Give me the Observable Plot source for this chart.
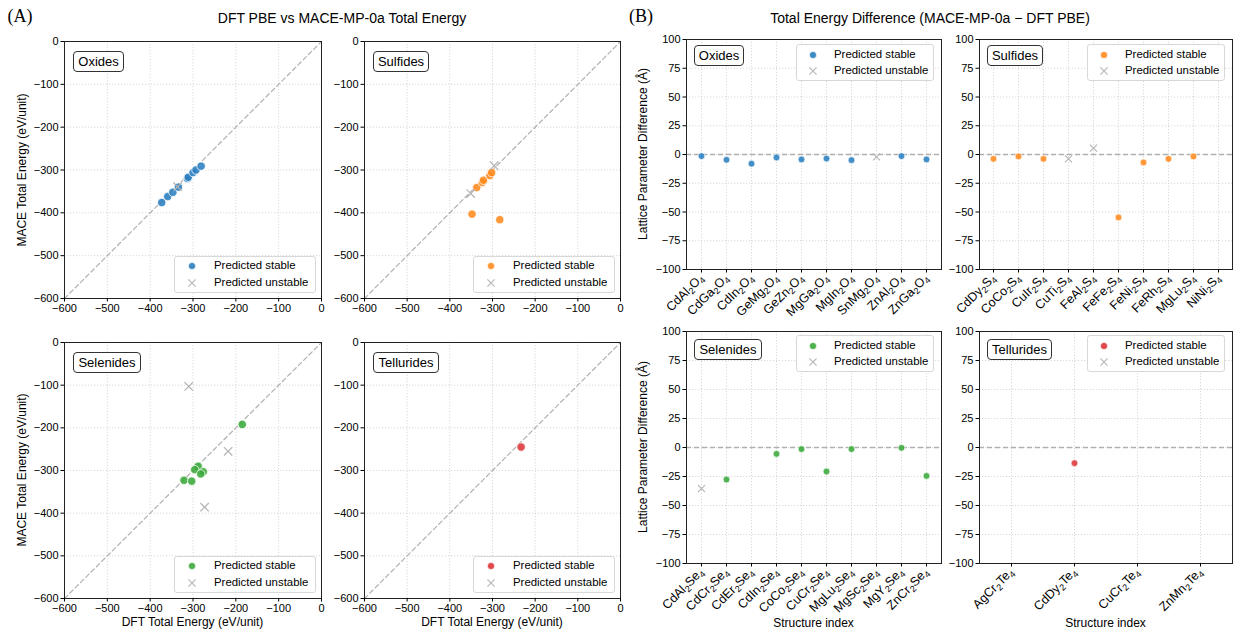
<!DOCTYPE html>
<html>
<head>
<meta charset="utf-8">
<script src="https://cdn.jsdelivr.net/npm/d3@7"></script>
<script src="https://cdn.jsdelivr.net/npm/@observablehq/plot@0.6"></script>
<style>
  html, body { margin: 0; padding: 0; background: #fff; }
  #fig { position: relative; width: 1233px; height: 634px; overflow: hidden; background: #fff;
         font-family: "Liberation Sans", Arial, Helvetica, sans-serif; color: #000; }
  .txt { position: absolute; white-space: nowrap; transform-origin: center center; line-height: 1; }
  .tag { position: absolute; box-sizing: border-box; border: 1px solid #333; border-radius: 4px;
         background: #fff; display: flex; align-items: center; justify-content: center;
         font-size: 13px; line-height: 1; }
  .leg { position: absolute; box-sizing: border-box; border: 1px solid #d8d8d8; border-radius: 3px;
         background: rgba(255,255,255,0.85); font-size: 11.4px; }
  .leg .lab { position: absolute; white-space: nowrap; line-height: 1; }
  .leg svg { position: absolute; overflow: visible; }
</style>
</head>
<body>
<div id="fig"></div>
<script>
// ---------------- DATA ----------------
const groups = ["Oxides", "Sulfides", "Selenides", "Tellurides"];
const groupColors = ["#2a7fbf", "#ff8a1e", "#3aa83a", "#dc3537"];
const legendLabels = ["Predicted stable", "Predicted unstable"];

// Panel A: DFT vs MACE total energy (eV/unit)
const energyTicks = [-600, -500, -400, -300, -200, -100, 0];
const oxidesStableDFT    = [-373, -359, -347, -334, -313, -311, -300, -293, -281];
const oxidesStableMACE   = [-376, -362, -352, -340, -320, -317, -306, -300, -291];
const oxidesUnstableDFT  = [-336];
const oxidesUnstableMACE = [-339];

const sulfidesStableDFT    = [-348, -283, -337, -324, -321, -306, -302];
const sulfidesStableMACE   = [-403, -416, -341, -329, -324, -313, -306];
const sulfidesUnstableDFT  = [-351, -296];
const sulfidesUnstableMACE = [-355, -290];

const selenidesStableDFT    = [-185, -288, -296, -276, -282, -321, -303];
const selenidesStableMACE   = [-192, -290, -298, -303, -308, -323, -325];
const selenidesUnstableDFT  = [-310, -218, -273];
const selenidesUnstableMACE = [-103, -255, -386];

const telluridesStableDFT    = [-233];
const telluridesStableMACE   = [-245];
const telluridesUnstableDFT  = [];
const telluridesUnstableMACE = [];

// Panel B: lattice parameter difference (Å); null = no value, stable 1/0
const latticeTicks = [-100, -75, -50, -25, 0, 25, 50, 75, 100];
const oxideNames  = ["CdAl₂O₄", "CdGa₂O₄", "CdIn₂O₄", "GeMg₂O₄", "GeZn₂O₄", "MgGa₂O₄", "MgIn₂O₄", "SnMg₂O₄", "ZnAl₂O₄", "ZnGa₂O₄"];
const oxideDiff   = [-1.4, -4.6, -8.0, -2.6, -4.3, -3.5, -4.9, -2.0, -1.4, -4.3];
const oxideStable = [1, 1, 1, 1, 1, 1, 1, 0, 1, 1];

const sulfideNames  = ["CdDy₂S₄", "CoCo₂S₄", "CuIr₂S₄", "CuTi₂S₄", "FeAl₂S₄", "FeFe₂S₄", "FeNi₂S₄", "FeRh₂S₄", "MgLu₂S₄", "NiNi₂S₄"];
const sulfideDiff   = [-3.8, -1.7, -3.8, -3.8, 5.5, -54.7, -6.9, -3.8, -1.7, null];
const sulfideStable = [1, 1, 1, 0, 0, 1, 1, 1, 1, null];

const selenideNames  = ["CdAl₂Se₄", "CdCr₂Se₄", "CdEr₂Se₄", "CdIn₂Se₄", "CoCo₂Se₄", "CuCr₂Se₄", "MgLu₂Se₄", "MgSc₂Se₄", "MgY₂Se₄", "ZnCr₂Se₄"];
const selenideDiff   = [-35.4, -27.6, null, -5.5, -1.4, -20.7, -1.4, null, -0.3, -24.5];
const selenideStable = [0, 1, null, 1, 1, 1, 1, null, 1, 1];

const tellurideNames  = ["AgCr₂Te₄", "CdDy₂Te₄", "CuCr₂Te₄", "ZnMn₂Te₄"];
const tellurideDiff   = [null, -13.5, null, null];
const tellurideStable = [null, 1, null, null];

// ---------------- LAYOUT ----------------
const FONT = '"Liberation Sans", Arial, Helvetica, sans-serif';
const fig = document.getElementById("fig");
const framesA = [
  {l: 64, r: 321, t: 41, b: 298}, {l: 364, r: 620, t: 41, b: 298},
  {l: 64, r: 321, t: 342, b: 598}, {l: 364, r: 620, t: 342, b: 598}
];
const framesB = [
  {l: 686, r: 941, t: 39, b: 269}, {l: 979, r: 1232, t: 39, b: 269},
  {l: 686, r: 941, t: 331, b: 563}, {l: 979, r: 1232, t: 331, b: 563}
];
const gridStyle = {stroke: "#cfcfcf", strokeOpacity: 1, strokeDasharray: "1.2,1.8", strokeWidth: 0.8};
const axisStyle = {tickSize: 3.5, tickPadding: 2.5, label: null, fontSize: 11};
const SUBS = {"₀": "0", "₁": "1", "₂": "2", "₃": "3", "₄": "4", "₅": "5", "₆": "6", "₇": "7", "₈": "8", "₉": "9"};
const SVGNS = "http://www.w3.org/2000/svg";

function addPlot(frame, mB, x, y, marks) {
  const mL = 46, mR = 8, mT = 8;
  const w = frame.r - frame.l, h = frame.b - frame.t;
  const svg = Plot.plot({
    width: mL + w + mR, height: mT + h + mB,
    marginLeft: mL, marginRight: mR, marginTop: mT, marginBottom: mB,
    style: {fontFamily: FONT, fontSize: "11px", background: "none", color: "#000", overflow: "visible"},
    x, y, marks
  });
  svg.style.position = "absolute";
  svg.style.left = (frame.l - mL) + "px";
  svg.style.top = (frame.t - mT) + "px";
  svg.style.maxWidth = "none";
  fig.appendChild(svg);
  return svg;
}

// Render subscript digits in chemical-formula tick labels as lowered, smaller tspans
function subscriptTicks(svg) {
  svg.querySelectorAll('[aria-label="x-axis tick label"] text').forEach(t => {
    const s = t.textContent;
    while (t.firstChild) t.removeChild(t.firstChild);
    t.setAttribute("font-size", "12.5");
    let shifted = false;
    for (const ch of s) {
      const sp = document.createElementNS(SVGNS, "tspan");
      const isSub = ch in SUBS;
      sp.textContent = isSub ? SUBS[ch] : ch;
      if (isSub) sp.setAttribute("font-size", "9");
      if (isSub && !shifted) { sp.setAttribute("dy", "2.8"); shifted = true; }
      else if (!isSub && shifted) { sp.setAttribute("dy", "-2.8"); shifted = false; }
      t.appendChild(sp);
    }
  });
}

function addText(str, cx, cy, size, opts = {}) {
  const d = document.createElement("div");
  d.className = "txt";
  d.textContent = str;
  d.style.fontSize = size + "px";
  if (opts.family) d.style.fontFamily = opts.family;
  d.style.left = cx + "px";
  d.style.top = cy + "px";
  d.style.transform = `translate(-50%,-50%)${opts.rotate ? ` rotate(${opts.rotate}deg)` : ""}`;
  fig.appendChild(d);
}

function addTag(str, left, top, w, h) {
  const d = document.createElement("div");
  d.className = "tag";
  d.textContent = str;
  Object.assign(d.style, {left: left + "px", top: top + "px", width: w + "px", height: h + "px"});
  fig.appendChild(d);
}

function addLegend(left, top, w, h, color, ix, tx, y1, y2) {
  const d = document.createElement("div");
  d.className = "leg";
  Object.assign(d.style, {left: left + "px", top: top + "px", width: w + "px", height: h + "px"});
  d.innerHTML =
    `<svg width="1" height="1" style="left:${ix}px;top:${y1}px"><circle r="3.6" fill="${color}" fill-opacity="0.9" stroke="#fff" stroke-width="0.7"/></svg>` +
    `<div class="lab" style="left:${tx}px;top:${y1 - 6}px">${legendLabels[0]}</div>` +
    `<svg width="1" height="1" style="left:${ix}px;top:${y2}px"><path d="M-3.6,-3.6L3.6,3.6M-3.6,3.6L3.6,-3.6" stroke="#b8b8b8" stroke-width="1.2"/></svg>` +
    `<div class="lab" style="left:${tx}px;top:${y2 - 6}px">${legendLabels[1]}</div>`;
  fig.appendChild(d);
}

function zipXY(xs, ys) { return xs.map((v, i) => ({dft: v, mace: ys[i]})); }
function rowsB(names, diffs, stab) { return names.map((n, i) => ({name: n, diff: diffs[i], stable: stab[i]})); }

// ---------------- PANEL A ----------------
const aStable = [
  zipXY(oxidesStableDFT, oxidesStableMACE), zipXY(sulfidesStableDFT, sulfidesStableMACE),
  zipXY(selenidesStableDFT, selenidesStableMACE), zipXY(telluridesStableDFT, telluridesStableMACE)
];
const aUnstable = [
  zipXY(oxidesUnstableDFT, oxidesUnstableMACE), zipXY(sulfidesUnstableDFT, sulfidesUnstableMACE),
  zipXY(selenidesUnstableDFT, selenidesUnstableMACE), zipXY(telluridesUnstableDFT, telluridesUnstableMACE)
];
const energyDomain = [energyTicks[0], energyTicks[energyTicks.length - 1]];

groups.forEach((g, i) => {
  const f = framesA[i];
  addPlot(f, 26, {domain: energyDomain}, {domain: energyDomain}, [
    Plot.gridX(energyTicks, gridStyle),
    Plot.gridY(energyTicks, gridStyle),
    Plot.line(energyDomain.map(v => [v, v]), {stroke: "#b0b0b0", strokeDasharray: "4.5,3", strokeWidth: 1.2}),
    Plot.dot(aStable[i], {x: "dft", y: "mace", r: 4.2, fill: groupColors[i], fillOpacity: 0.88, stroke: "#fff", strokeWidth: 0.8}),
    Plot.dot(aUnstable[i], {x: "dft", y: "mace", r: 3.9, symbol: "times", stroke: "#b4b4b4", strokeWidth: 1.2}),
    Plot.frame({stroke: "#222", strokeWidth: 1}),
    Plot.axisX(energyTicks, axisStyle),
    Plot.axisY(energyTicks, axisStyle)
  ]);
});

// ---------------- PANEL B ----------------
const bNames = [oxideNames, sulfideNames, selenideNames, tellurideNames];
const bRows = [
  rowsB(oxideNames, oxideDiff, oxideStable), rowsB(sulfideNames, sulfideDiff, sulfideStable),
  rowsB(selenideNames, selenideDiff, selenideStable), rowsB(tellurideNames, tellurideDiff, tellurideStable)
];
const latticeDomain = [latticeTicks[0], latticeTicks[latticeTicks.length - 1]];

groups.forEach((g, i) => {
  const f = framesB[i];
  const rows = bRows[i];
  const svg = addPlot(f, 72, {type: "point", domain: bNames[i], padding: 0.5}, {domain: latticeDomain}, [
    Plot.gridX(bNames[i], gridStyle),
    Plot.gridY(latticeTicks, gridStyle),
    Plot.ruleY([0], {stroke: "#b0b0b0", strokeDasharray: "5,3", strokeWidth: 1.3}),
    Plot.dot(rows.filter(d => d.stable === 1), {x: "name", y: "diff", r: 3.4, fill: groupColors[i], fillOpacity: 0.88, stroke: "#fff", strokeWidth: 0.7}),
    Plot.dot(rows.filter(d => d.stable === 0), {x: "name", y: "diff", r: 3.3, symbol: "times", stroke: "#b4b4b4", strokeWidth: 1.1}),
    Plot.frame({stroke: "#222", strokeWidth: 1}),
    Plot.axisX({...axisStyle, tickRotate: -45, tickPadding: 3}),
    Plot.axisY(latticeTicks, axisStyle)
  ]);
  subscriptTicks(svg);
});

// ---------------- TEXT / TAGS / LEGENDS ----------------
addText("(A)", 20, 16, 18, {family: '"Liberation Serif", "Times New Roman", serif'});
addText("(B)", 641, 16, 18, {family: '"Liberation Serif", "Times New Roman", serif'});
addText("DFT PBE vs MACE-MP-0a Total Energy", 342, 18, 14);
addText("Total Energy Difference (MACE-MP-0a \u2212 DFT PBE)", 930, 18, 14);

[framesA[0], framesA[2]].forEach(f => addText("MACE Total Energy (eV/unit)", 22, (f.t + f.b) / 2, 12, {rotate: -90}));
[framesA[2], framesA[3]].forEach(f => addText("DFT Total Energy (eV/unit)", (f.l + f.r) / 2, 622, 12));
[framesB[0], framesB[2]].forEach(f => addText("Lattice Parameter Difference (\u00c5)", 643, (f.t + f.b) / 2, 12, {rotate: -90}));
[framesB[2], framesB[3]].forEach(f => addText("Structure index", (f.l + f.r) / 2, 623, 12));

const tagWidthsA = [51, 56, 68, 66];
const tagWidthsB = [50, 56, 68, 65];
groups.forEach((g, i) => {
  const fa = framesA[i], fb = framesB[i];
  addTag(g, fa.l + 9, fa.t + 10, tagWidthsA[i], 21);
  addTag(g, fb.l + 8, fb.t + (i < 2 ? 6 : 8), tagWidthsB[i], 21);
  addLegend(fa.r - 147, fa.b - 42, 142, 37, groupColors[i], 17, 39, 9, 26);
  addLegend(fb.r - 145, fb.t + (i < 2 ? 5 : 4), 138, 37, groupColors[i], 16, 37, 10, 26);
});
</script>
</body>
</html>
